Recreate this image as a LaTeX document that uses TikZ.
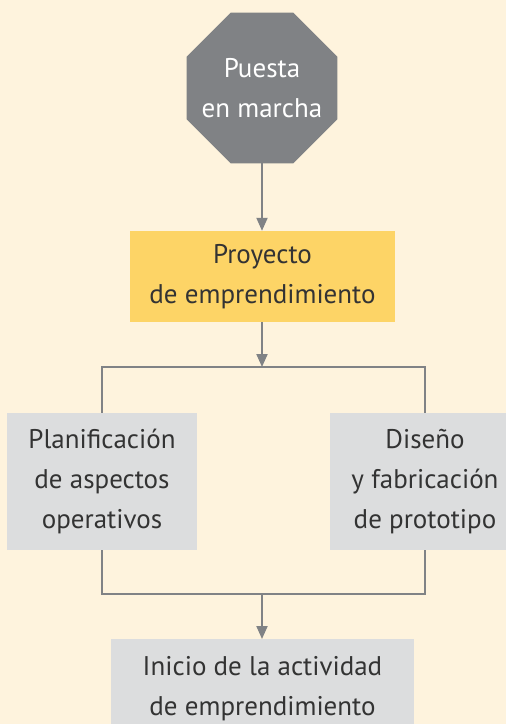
\documentclass[tikz,border=0pt]{standalone}
\usepackage{fontspec}
\setmainfont{PT Sans}
\usetikzlibrary{arrows.meta,shapes.geometric}
\definecolor{bg}{HTML}{FEF3DD}
\definecolor{octo}{HTML}{808285}
\definecolor{yel}{HTML}{FDD466}
\definecolor{boxg}{HTML}{DCDDDE}
\definecolor{linec}{HTML}{808285}
\definecolor{txt}{HTML}{333333}
\tikzset{
  base/.style={inner sep=0pt, align=center, font=\fontsize{27}{40}\selectfont, text=txt},
  rbox/.style={base, rectangle},
  conn/.style={draw=linec, line width=2pt},
  arr/.style={conn, -{Triangle[width=11pt,length=13pt]}},
}
\begin{document}
\begin{tikzpicture}[x=1pt,y=1pt]
\clip (0,0) rectangle (506,-724);
\fill[bg] (0,0) rectangle (506,-724);
\node[regular polygon, regular polygon sides=8, minimum size=163.4pt, inner sep=0pt, outer sep=0pt, fill=octo] (start) at (262,-88) {};
\node[base, text=white] (starttxt) at (262,-88) {Puesta\\en marcha};
\node[rbox, fill=yel, minimum width=265pt, minimum height=91pt] (proj) at (262.5,-276.5) {Proyecto\\de emprendimiento};
\node[rbox, fill=boxg, minimum width=190pt, minimum height=137pt] (plan) at (102,-481.5) {Planificación\\de aspectos\\operativos};
\node[rbox, fill=boxg, minimum width=190pt, minimum height=137pt] (dis) at (425,-481.5) {Diseño\\y fabricación\\de prototipo};
\node[rbox, fill=boxg, minimum width=303pt, minimum height=100pt, anchor=north] (ini) at (262.5,-639) {};
\node[base] (initxt) at (262.5,-689) {Inicio de la actividad\\de emprendimiento};
\coordinate (split) at (262,-367);
\coordinate (join) at (262,-594);
\draw[arr] (start.south) -- (proj.north -| start.south);
\draw[arr] (proj.south -| split) -- (split);
\draw[conn] (plan.north) |- (split) -| (dis.north);
\draw[conn] (plan.south) |- (join) -| (dis.south);
\draw[arr] (join) -- (ini.north -| join);
\end{tikzpicture}
\end{document}
